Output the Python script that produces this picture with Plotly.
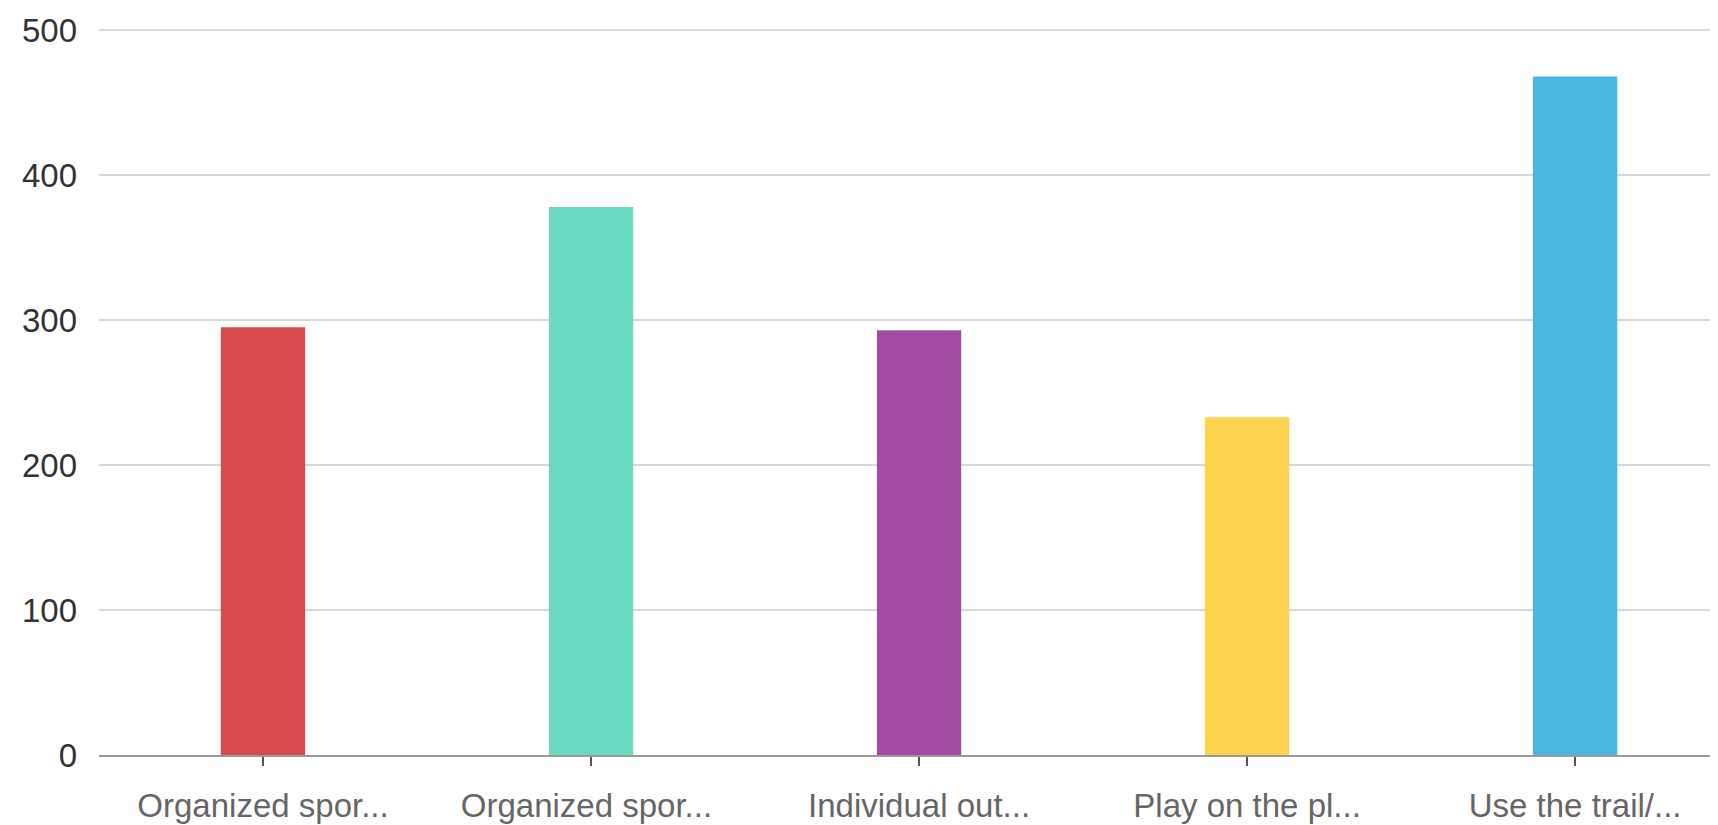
import plotly.graph_objects as go

# categories (truncated as in the source chart) and their counts
categories = ["Organized spor...", "Organized spor... ", "Individual out...", "Play on the pl...", "Use the trail/..."]
counts = [295, 378, 293, 233, 468]
bar_colors = ["#d84a4c", "#6bd8c0", "#a34aa3", "#fdd24e", "#49b8e0"]
y_ticks = [0, 100, 200, 300, 400, 500]

fig = go.Figure()

fig.add_trace(go.Bar(
    x=categories,
    y=counts,
    marker=dict(color=bar_colors, line=dict(width=0)),
    width=0.257,
    showlegend=False,
))

fig.update_layout(
    width=1718,
    height=825,
    margin=dict(l=91, r=0, t=0, b=78),
    paper_bgcolor="white",
    plot_bgcolor="white",
    font=dict(family="Liberation Sans, Arial, sans-serif", size=33, color="#444"),
    xaxis=dict(
        range=[-0.5, 4.46],
        showgrid=False,
        showline=True,
        linecolor="#9a9a9a",
        linewidth=2,
        ticks="outside",
        ticklen=9,
        tickcolor="#555",
        tickwidth=2,
        tickfont=dict(size=33, color="#666"),
        ticklabelstandoff=11,
        zeroline=False,
    ),
    yaxis=dict(
        range=[0, 515.2],
        tickvals=y_ticks,
        showgrid=True,
        gridcolor="#d8d8d8",
        gridwidth=2,
        zeroline=False,
        showline=False,
        tickfont=dict(size=33, color="#333"),
        ticklabelstandoff=21,
    ),
)

fig.write_html("out.html")
